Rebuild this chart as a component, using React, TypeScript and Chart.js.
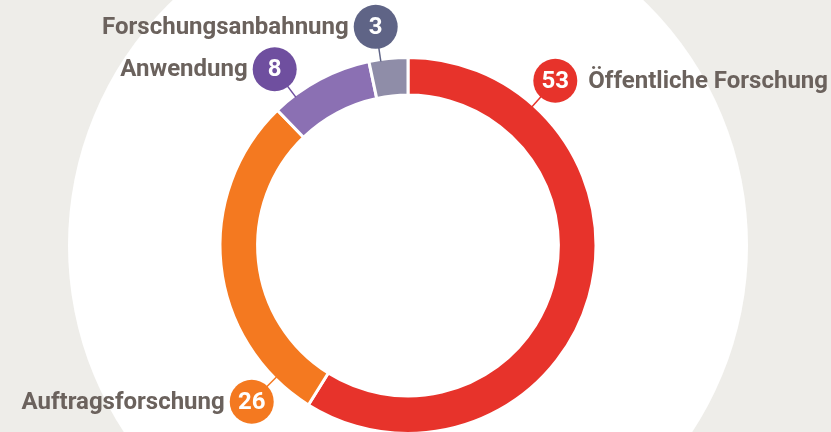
import React, { useEffect, useRef } from "react";
import { Chart, registerables } from "chart.js";

Chart.register(...registerables);

const categories = ["Öffentliche Forschung", "Auftragsforschung", "Anwendung", "Forschungsanbahnung"];
const values = [53, 26, 8, 3];

const segmentColors = ["#e7332b", "#f47920", "#8b70b3", "#8f8da8"];
const bubbleColors = ["#e7332b", "#f47920", "#6f4f9f", "#5f6486"];

// callout placement (degrees clockwise from 12 o'clock) and text side
const calloutAngles = [41.8, 225, 322.9, 351.6];
const calloutSides = ["right", "left", "left", "left"];

const FONT = "Roboto, 'Noto Sans', 'DejaVu Sans', sans-serif";
const TEXT_COLOR = "#6b625d";
const BG = "#eeede9";

const calloutPlugin = {
  id: "callouts",
  beforeDraw(chart: any) {
    const meta = chart.getDatasetMeta(0);
    const arc = meta.data[0];
    if (!arc) return;
    const { x, y } = arc.getProps(["x", "y"], true);
    const ctx = chart.ctx;
    ctx.save();
    ctx.fillStyle = BG;
    ctx.fillRect(0, 0, chart.width, chart.height);
    ctx.beginPath();
    ctx.arc(x, y, 340, 0, Math.PI * 2);
    ctx.fillStyle = "#ffffff";
    ctx.fill();
    ctx.restore();
  },
  afterDraw(chart: any) {
    const meta = chart.getDatasetMeta(0);
    const ctx = chart.ctx;
    const labels = chart.data.labels;
    const data = chart.data.datasets[0].data;
    meta.data.forEach((arc: any, i: number) => {
      const { x, y, outerRadius } = arc.getProps(["x", "y", "outerRadius"], true);
      const a = (calloutAngles[i] * Math.PI) / 180;
      const sx = Math.sin(a);
      const sy = -Math.cos(a);
      const dist = outerRadius + 33;
      const bx = x + sx * dist;
      const by = y + sy * dist;
      const r = 22;
      ctx.save();
      ctx.strokeStyle = bubbleColors[i];
      ctx.lineWidth = 1.5;
      ctx.beginPath();
      ctx.moveTo(x + sx * (outerRadius - 2), y + sy * (outerRadius - 2));
      ctx.lineTo(bx, by);
      ctx.stroke();
      ctx.beginPath();
      ctx.arc(bx, by, r, 0, Math.PI * 2);
      ctx.fillStyle = bubbleColors[i];
      ctx.fill();
      ctx.fillStyle = "#ffffff";
      ctx.font = `bold 24px ${FONT}`;
      ctx.textAlign = "center";
      ctx.textBaseline = "middle";
      ctx.fillText(String(data[i]), bx, by + 1);
      ctx.fillStyle = TEXT_COLOR;
      ctx.font = `bold 24px ${FONT}`;
      if (calloutSides[i] === "right") {
        ctx.textAlign = "left";
        ctx.fillText(labels[i], bx + r + 11, by + 1);
      } else {
        ctx.textAlign = "right";
        ctx.fillText(labels[i], bx - r - 5, by + 1);
      }
      ctx.restore();
    });
  },
};

export default function App() {
  const ref = useRef<HTMLCanvasElement | null>(null);
  useEffect(() => {
    if (!ref.current) return;
    const chart = new Chart(ref.current, {
      type: "doughnut",
      data: {
        labels: categories,
        datasets: [
          {
            data: values,
            backgroundColor: segmentColors,
            borderColor: "#ffffff",
            borderWidth: 3,
            hoverOffset: 0,
          },
        ],
      },
      options: {
        responsive: false,
        animation: false,
        devicePixelRatio: 1,
        cutout: "80%",
        rotation: 0,
        layout: { padding: { top: 56, bottom: 5, left: 0, right: 15 } },
        plugins: {
          legend: { display: false },
          tooltip: { enabled: false },
        },
      },
      plugins: [calloutPlugin],
    });
    return () => chart.destroy();
  }, []);
  return (
    <div
      style={{
        position: "fixed",
        left: 0,
        top: 0,
        width: 831,
        height: 432,
        overflow: "hidden",
        background: BG,
      }}
    >
      <canvas ref={ref} width={831} height={440} style={{ display: "block" }} />
    </div>
  );
}
